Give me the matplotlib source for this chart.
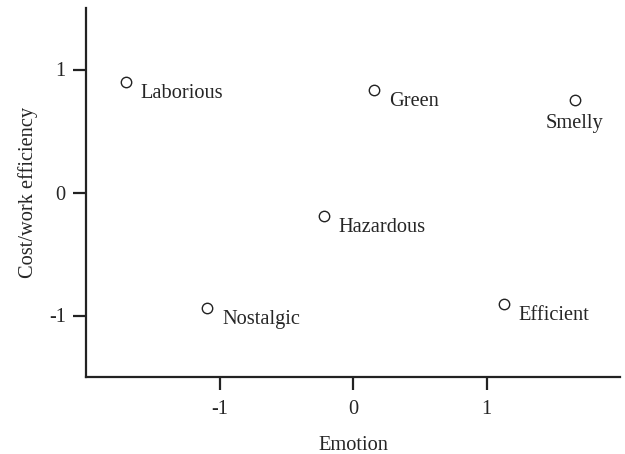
import matplotlib
matplotlib.use("Agg")
import matplotlib.pyplot as plt

labels = ["Laborious", "Green", "Smelly", "Hazardous", "Nostalgic", "Efficient"]
emotion = [-1.70, 0.16, 1.66, -0.22, -1.09, 1.13]
cost_efficiency = [0.90, 0.83, 0.75, -0.195, -0.94, -0.91]
x_ticks = [-1, 0, 1]
y_ticks = [-1, 0, 1]

plt.rcParams['font.family'] = ['Liberation Serif', 'DejaVu Serif']
FS = 14.7

fig = plt.figure(figsize=(6.25, 4.54), dpi=100)
ax = fig.add_axes([86/625, 77/454, (620-86)/625, (377-8)/454])

ax.plot(emotion, cost_efficiency, linestyle='none', marker='o', markersize=7.5,
        markerfacecolor='white', markeredgecolor='#222222', markeredgewidth=1.0)

px = 0.72
for lab, x, y in zip(labels, emotion, cost_efficiency):
    if lab == "Smelly":
        ax.annotate(lab, (x, y), xytext=(0, -23*px), textcoords='offset points',
                    ha='center', va='center', fontsize=FS, color='#262626')
    else:
        ax.annotate(lab, (x, y), xytext=(14.5*px, -11.5*px), textcoords='offset points',
                    ha='left', va='center', fontsize=FS, color='#262626')

ax.set_xlim(-2, 2)
ax.set_ylim(-1.5, 1.5)
ax.set_xticks(x_ticks)
ax.set_yticks(y_ticks)
ax.set_xticklabels([str(t) for t in x_ticks])
ax.set_yticklabels([str(t) for t in y_ticks])

for s in ['top', 'right']:
    ax.spines[s].set_visible(False)
for s in ['left', 'bottom']:
    ax.spines[s].set_linewidth(1.6)
    ax.spines[s].set_color('#222222')

ax.tick_params(direction='out', length=9.5, width=1.6, color='#222222',
               labelsize=FS, labelcolor='#262626')
ax.tick_params(axis='x', pad=7)
ax.tick_params(axis='y', pad=5)

ax.set_xlabel('Emotion', fontsize=FS, color='#262626', labelpad=12)
ax.set_ylabel('Cost/work efficiency', fontsize=FS, color='#262626', labelpad=8)

fig.savefig('out.png', dpi=100)
